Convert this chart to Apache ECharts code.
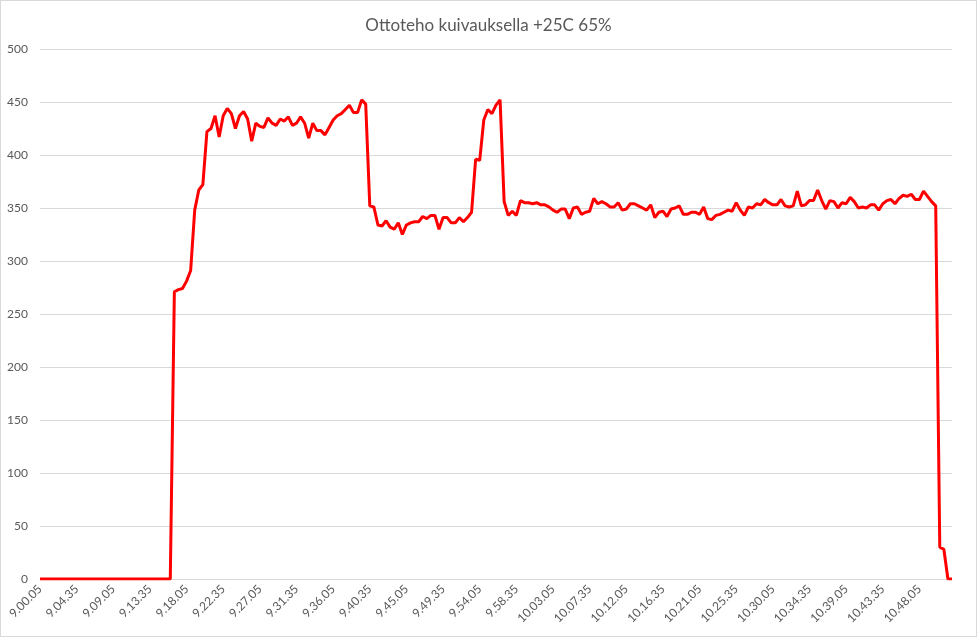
<!DOCTYPE html>
<html>
<head>
<meta charset="utf-8">
<title>Ottoteho kuivauksella +25C 65%</title>
<script src="https://cdn.jsdelivr.net/npm/echarts@6/dist/echarts.min.js"></script>
<style>
  html, body { margin: 0; padding: 0; background: #fff; }
  #chart { width: 975px; height: 635px; border: 1px solid #d9d9d9; }
</style>
</head>
<body>
<div id="chart"></div>
<script>
// mittaus 30 s välein, alkaen 9.00.05
const startTime = [9, 0, 5];
const stepSeconds = 30;
const pointCount = 225;

const yTicks = [0, 50, 100, 150, 200, 250, 300, 350, 400, 450, 500];

// ottoteho (W)
const ottoteho = [
  0, 0, 0, 0, 0, 0, 0, 0, 0, 0, 0, 0, 0, 0, 0, 0, 0, 0, 0, 0,
  0, 0, 0, 0, 0, 0, 0, 0, 0, 0, 0, 0, 0,
  271, 273, 274, 281, 291, 348, 367, 372, 422, 425,
  437, 417, 437, 444, 439, 425, 437, 441, 434, 413,
  430, 427, 426, 435, 430, 428, 434, 432, 436, 428,
  430, 436, 430, 416, 430, 423, 423, 419, 426, 433,
  437, 439, 443, 447, 440, 440, 452, 448, 352, 351,
  334, 333, 338, 332, 330, 336, 325, 334, 336, 337,
  337, 342, 340, 343, 343, 330, 341, 341, 336, 336,
  341, 337, 341, 346, 396, 395, 433, 443, 439, 447,
  452, 356, 343, 347, 343, 357, 355, 355, 354, 355,
  353, 353, 351, 348, 346, 349, 349, 340, 350, 351,
  344, 346, 347, 359, 354, 356, 354, 351, 351, 355,
  348, 349, 354, 354, 352, 350, 348, 353, 341, 346,
  347, 342, 349, 350, 352, 344, 344, 346, 346, 344,
  351, 340, 339, 343, 344, 346, 348, 347, 355, 348,
  343, 351, 350, 354, 353, 358, 355, 353, 353, 358,
  352, 351, 352, 366, 352, 353, 357, 357, 367, 357,
  349, 357, 356, 350, 355, 354, 360, 356, 350, 351,
  350, 353, 353, 348, 354, 357, 358, 354, 359, 362,
  361, 363, 358, 358, 366, 361, 356, 352, 30, 28,
  0, 0
];

// aikaleimat kategorioiksi, esim. 9.04.35
function makeTimes() {
  const out = [];
  let t = startTime[0] * 3600 + startTime[1] * 60 + startTime[2];
  for (let i = 0; i < pointCount; i++) {
    const h = Math.floor(t / 3600);
    const m = Math.floor((t % 3600) / 60);
    const s = t % 60;
    out.push(h + '.' + String(m).padStart(2, '0') + '.' + String(s).padStart(2, '0'));
    t += stepSeconds;
  }
  return out;
}
const times = makeTimes();

const textColor = '#595959';
const gridColor = '#d9d9d9';
const font = 'Lato, "Open Sans", sans-serif';

let myChart = echarts.init(document.getElementById('chart'), null, { renderer: 'canvas' });

myChart.setOption({
  animation: false,
  title: {
    text: 'Ottoteho kuivauksella +25C 65%',
    left: 'center',
    top: 11,
    textStyle: { color: textColor, fontSize: 17, fontWeight: 'normal', fontFamily: font }
  },
  grid: { left: 39, right: 24, top: 48, bottom: 57 },
  xAxis: {
    type: 'category',
    boundaryGap: false,
    data: times,
    axisLine: { lineStyle: { color: gridColor, width: 1 } },
    axisTick: { show: false },
    axisLabel: {
      interval: 8,
      rotate: 45,
      margin: 8,
      color: textColor,
      fontSize: 12,
      fontFamily: font
    },
    splitLine: { show: false }
  },
  yAxis: {
    type: 'value',
    min: yTicks[0],
    max: yTicks[yTicks.length - 1],
    interval: yTicks[1] - yTicks[0],
    axisLine: { show: false },
    axisTick: { show: false },
    axisLabel: { color: textColor, fontSize: 12, margin: 12, fontFamily: font },
    splitLine: { lineStyle: { color: gridColor, width: 1 } }
  },
  series: [{
    name: 'Ottoteho',
    type: 'line',
    data: ottoteho,
    symbol: 'none',
    lineStyle: { color: '#ff0000', width: 3 },
    itemStyle: { color: '#ff0000' }
  }]
});
</script>
</body>
</html>
